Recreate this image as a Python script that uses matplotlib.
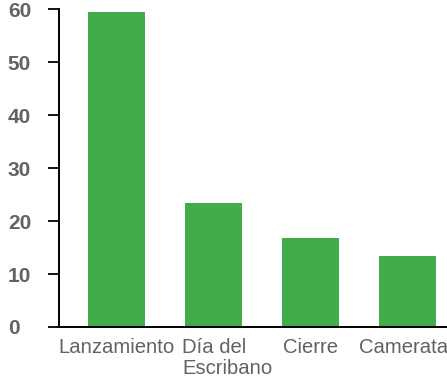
import matplotlib.pyplot as plt
from matplotlib.transforms import ScaledTranslation

categories = ['Lanzamiento', 'Día del\nEscribano', 'Cierre', 'Camerata']
values = [59.5, 23.5, 16.8, 13.4]
yticks = [0, 10, 20, 30, 40, 50, 60]

bar_color = '#41ad4a'
text_gray = '#626262'

W, H = 447, 387
fig = plt.figure(figsize=(W / 100, H / 100), dpi=100)
ax = fig.add_axes([59 / W, (H - 327) / H, (W - 59) / W, (327 - 9.3) / H])

x = range(len(categories))
ax.bar(x, values, width=0.59, color=bar_color, zorder=2)

ax.set_xlim(-0.593, 3.407)
ax.set_ylim(0, 60)
ax.set_yticks(yticks)
ax.set_yticklabels([str(t) for t in yticks], fontsize=15, fontweight='bold',
                   color=text_gray, family='Liberation Sans', ha='left')
ax.tick_params(axis='y', length=8, width=1.3, color='black', pad=28.8)

ax.set_xticks(list(x))
ax.set_xticklabels(categories, fontsize=14.6, color=text_gray,
                   family='Liberation Sans', linespacing=1.1)
ax.tick_params(axis='x', length=0, pad=8)

# wrapped label sits left-aligned, a bit to the right of its bar centre
lbl = ax.get_xticklabels()[1]
lbl.set_multialignment('left')
lbl.set_transform(lbl.get_transform() + ScaledTranslation(14 / 100, 0, fig.dpi_scale_trans))

# last label hugs the right edge
last = ax.get_xticklabels()[3]
last.set_transform(last.get_transform() + ScaledTranslation(-4 / 100, 0, fig.dpi_scale_trans))

for side in ('top', 'right'):
    ax.spines[side].set_visible(False)
ax.spines['left'].set_linewidth(1.4)
ax.spines['bottom'].set_linewidth(1.4)
ax.spines['bottom'].set_bounds(-0.604, 3.407)

fig.savefig('out.png', dpi=100)
